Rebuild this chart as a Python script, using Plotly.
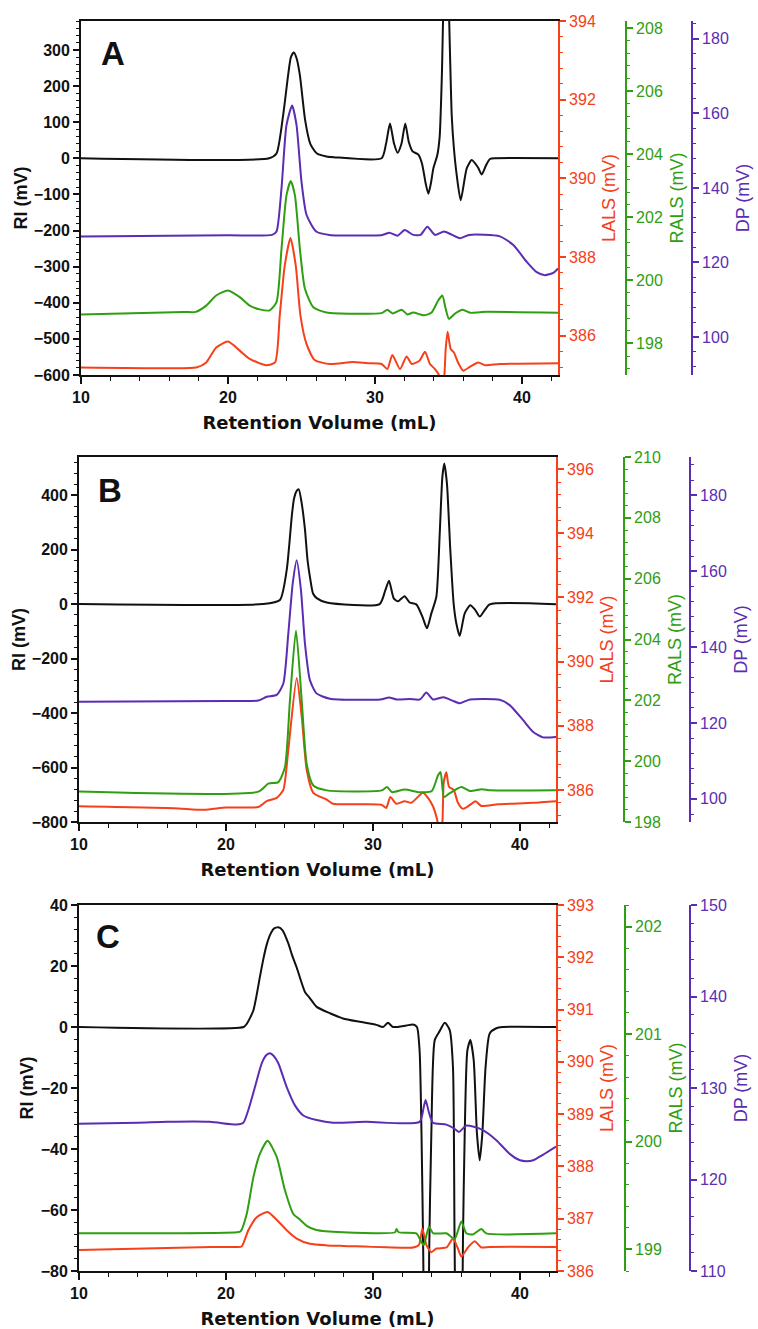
import plotly.graph_objects as go

# ---------------- DATA ----------------
# Panel A
A_RI_x = [10, 22.8, 23.3, 23.75, 24.09, 24.28, 24.48, 24.68, 24.89, 25.25, 25.6, 26.03, 26.7, 27.2, 30.45, 30.75, 31.02, 31.3, 31.54, 31.8, 32.06, 32.3, 32.56, 32.95, 33.2, 33.45, 33.63, 33.8, 33.97, 34.24, 34.4, 34.55, 34.82, 35.22, 35.37, 35.56, 35.83, 36.24, 36.58, 37.0, 37.26, 37.55, 37.82, 38.2, 42.45]
A_RI_y = [0, 0, 13, 119, 230, 280, 293, 275, 230, 105, 40, 14, 5, 3, 0, 40, 96, 40, 15, 40, 96, 45, 19, 10, -15, -70, -98, -70, -28, 9, 60, 230, 700, 119, 27, -47, -116, -28, -5, -25, -45, -20, -2, 0, 0]

A_DP_x = [10, 20, 23.0, 23.3, 23.64, 23.98, 24.36, 24.66, 25.0, 25.34, 26.0, 26.9, 30.5, 30.98, 31.54, 32.02, 32.6, 33.1, 33.56, 34.08, 34.69, 35.2, 35.78, 36.4, 38.5, 39.41, 40.32, 41.0, 41.56, 42.13, 42.45]
A_DP_y = [127.0, 127.3, 127.4, 128.3, 139.9, 156.9, 162.1, 156.9, 141.7, 132.8, 128.3, 127.4, 127.4, 128.0, 127.2, 128.7, 127.4, 127.4, 129.6, 127.4, 128.3, 127.5, 126.5, 127.4, 127.0, 124.7, 120.2, 117.4, 116.6, 117.2, 118.4]

A_RALS_x = [10, 17.0, 17.8, 18.52, 19.2, 20.0, 20.8, 21.48, 22.16, 22.84, 23.3, 23.64, 23.98, 24.27, 24.55, 24.89, 25.23, 25.8, 26.7, 30.5, 30.84, 31.2, 31.81, 32.2, 32.6, 33.33, 33.85, 34.31, 34.58, 34.81, 35.03, 35.45, 35.96, 36.5, 37.26, 42.45]
A_RALS_y = [198.92, 199.0, 199.0, 199.2, 199.52, 199.68, 199.47, 199.2, 199.08, 199.05, 199.31, 201.0, 202.7, 203.15, 202.7, 201.0, 199.74, 199.15, 198.98, 198.97, 199.07, 198.95, 199.07, 198.92, 198.98, 198.89, 198.98, 199.37, 199.52, 199.1, 198.78, 198.95, 199.07, 198.97, 199.0, 198.97]

A_LALS_x = [10, 16, 17.84, 18.52, 19.2, 20.0, 20.8, 21.48, 22.6, 23.2, 23.52, 23.86, 24.25, 24.61, 24.93, 25.34, 25.9, 26.93, 28.5, 29.5, 30.45, 30.84, 31.18, 31.7, 32.15, 32.5, 33.02, 33.4, 33.74, 34.08, 34.35, 34.55, 34.72, 34.81, 34.94, 35.15, 35.37, 35.67, 36.0, 36.5, 37.03, 37.5, 38.5, 42.45]
A_LALS_y = [385.19, 385.17, 385.19, 385.32, 385.70, 385.85, 385.62, 385.41, 385.25, 385.32, 386.51, 387.78, 388.48, 387.78, 386.51, 385.79, 385.38, 385.28, 385.33, 385.30, 385.28, 385.15, 385.51, 385.15, 385.47, 385.28, 385.36, 385.59, 385.28, 385.15, 385.0, 384.6, 385.0, 385.66, 386.1, 385.66, 385.57, 385.3, 385.11, 385.22, 385.32, 385.25, 385.28, 385.30]

# Panel B
B_RI_x = [10, 22.5, 23.67, 24.13, 24.3, 24.47, 24.62, 24.8, 24.95, 25.15, 25.37, 25.55, 25.71, 25.92, 26.17, 26.85, 30.45, 30.84, 31.09, 31.41, 31.7, 32.15, 32.49, 32.95, 33.36, 33.67, 33.97, 34.31, 34.54, 34.72, 34.85, 35.03, 35.26, 35.49, 35.67, 35.9, 36.24, 36.62, 36.96, 37.26, 37.6, 37.94, 42.45]
B_RI_y = [0, 0, 15, 125, 215, 320, 385, 415, 421, 370, 275, 160, 100, 39, 22, 6, 0, 51, 86, 21, 10, 29, 6, -1, -46, -89, -34, 27, 259, 467, 516, 443, 198, 0, -71, -117, -34, -4, -22, -46, -22, -1, -1]

B_DP_x = [10, 20, 22.2, 22.77, 23.45, 23.9, 24.24, 24.54, 24.81, 25.1, 25.37, 25.71, 26.16, 27.07, 30.5, 31.09, 31.6, 32.5, 33.2, 33.63, 34.08, 34.81, 35.4, 35.9, 36.6, 38.62, 39.3, 40.2, 40.88, 41.56, 42.45]
B_DP_y = [125.6, 125.8, 125.9, 126.9, 127.4, 130.4, 143.6, 156.8, 162.9, 155.0, 141.0, 131.3, 127.8, 126.4, 126.2, 126.7, 126.2, 126.3, 126.2, 128.0, 126.2, 126.8, 125.9, 125.2, 126.2, 126.1, 124.7, 120.8, 117.7, 116.2, 116.3]

B_RALS_x = [10, 22.2, 22.88, 23.56, 24.01, 24.35, 24.76, 25.15, 25.49, 25.94, 26.85, 30.6, 30.95, 31.3, 32.15, 33.17, 34.0, 34.42, 34.6, 34.83, 35.17, 36.01, 36.6, 37.4, 38.0, 42.45]
B_RALS_y = [199.0, 199.0, 199.26, 199.31, 199.8, 202.0, 204.3, 202.0, 199.9, 199.2, 199.04, 199.04, 199.15, 198.98, 199.07, 198.98, 199.02, 199.53, 199.64, 198.82, 198.93, 199.15, 199.02, 199.08, 199.04, 199.04]

B_LALS_x = [10, 16.45, 18.5, 20, 22.2, 22.77, 23.45, 23.9, 24.24, 24.81, 25.15, 25.49, 25.94, 26.85, 27.28, 30.57, 30.9, 31.18, 31.59, 32.15, 32.6, 33.4, 33.74, 34.08, 34.35, 34.55, 34.72, 34.81, 34.99, 35.17, 35.49, 35.78, 36.12, 36.5, 36.98, 37.37, 38.5, 40.88, 42.45]
B_LALS_y = [385.49, 385.43, 385.38, 385.45, 385.47, 385.65, 385.75, 386.0, 387.26, 389.49, 388.29, 386.63, 385.91, 385.7, 385.57, 385.54, 385.44, 385.78, 385.57, 385.65, 385.6, 385.91, 385.75, 385.49, 385.1, 384.6, 385.0, 386.22, 386.55, 386.1, 386.0, 385.6, 385.41, 385.5, 385.65, 385.5, 385.55, 385.6, 385.65]

# Panel C
C_RI_x = [10, 21.2, 21.41, 21.86, 22.31, 22.55, 22.77, 23.0, 23.25, 23.56, 23.85, 24.24, 24.5, 24.81, 25.37, 25.7, 26.17, 27.07, 27.96, 29.09, 30.23, 30.68, 31.02, 31.36, 32.27, 32.72, 32.99, 33.17, 33.3, 33.42, 33.62, 33.82, 33.97, 34.2, 34.54, 34.88, 35.22, 35.44, 35.55, 35.85, 36.12, 36.24, 36.42, 36.62, 36.85, 37.07, 37.26, 37.44, 37.66, 37.94, 38.39, 38.8, 42.45]
C_RI_y = [0, 0, 1, 5.4, 16.5, 22.5, 27, 30.2, 32.2, 32.7, 31.7, 27.4, 23.5, 19.5, 11.5, 9.5, 6.6, 4.5, 2.8, 1.7, 0.7, 0, 1.4, 0, 0.5, 0.8, 0, -7.7, -35, -75, -200, -75, -34.8, -4.3, -1.3, 1.4, -1, -13.1, -70, -200, -70, -34.8, -7.7, -4.3, -10.8, -34.8, -43.7, -34.8, -13.1, -2.1, -0.4, 0, 0]

C_DP_x = [10, 14, 16, 18.9, 20.73, 21.18, 21.52, 21.97, 22.43, 22.75, 22.99, 23.25, 23.56, 24.13, 24.69, 25.26, 26.17, 27.28, 29.55, 33.17, 33.45, 33.58, 33.81, 34.08, 34.99, 35.49, 35.85, 36.35, 36.8, 37.48, 38.39, 39.3, 40.0, 40.43, 40.9, 41.56, 42.45]
C_DP_y = [126.1, 126.2, 126.3, 126.3, 126.0, 126.2, 127.6, 130.1, 132.7, 133.6, 133.8, 133.5, 132.7, 130.1, 128.1, 127.0, 126.5, 126.2, 126.3, 126.3, 127.9, 128.7, 127.3, 126.2, 126.0, 125.6, 125.2, 125.9, 125.8, 125.4, 124.3, 122.8, 122.1, 122.0, 122.1, 122.7, 123.6]

C_RALS_x = [10, 20.73, 21.0, 21.41, 21.86, 22.31, 22.83, 23.45, 24.01, 24.58, 25.01, 25.49, 26.15, 27.96, 31.5, 31.6, 31.75, 32.95, 33.29, 33.45, 33.81, 34.1, 34.99, 35.56, 36.01, 36.35, 36.8, 37.37, 37.7, 42.45]
C_RALS_y = [199.15, 199.16, 199.17, 199.33, 199.67, 199.89, 200.01, 199.86, 199.55, 199.33, 199.28, 199.22, 199.18, 199.16, 199.16, 199.19, 199.16, 199.15, 199.07, 199.04, 199.21, 199.15, 199.15, 199.1, 199.26, 199.15, 199.14, 199.19, 199.15, 199.15]

C_LALS_x = [10, 19, 20.73, 21.07, 21.52, 22.09, 22.83, 23.45, 24.13, 24.81, 25.71, 26.85, 28, 32.72, 33.13, 33.36, 33.63, 33.97, 34.31, 35.0, 35.44, 35.75, 36.01, 36.46, 36.92, 37.37, 37.94, 42.45]
C_LALS_y = [386.40, 386.46, 386.46, 386.47, 386.78, 387.03, 387.13, 386.98, 386.78, 386.62, 386.52, 386.49, 386.48, 386.45, 386.5, 386.81, 386.5, 386.36, 386.43, 386.45, 386.62, 386.45, 386.28, 386.45, 386.57, 386.45, 386.46, 386.46]

PANEL_LETTERS = ["A", "B", "C"]
X_TITLE = "Retention Volume (mL)"
Y_TITLES = ["RI (mV)", "LALS (mV)", "RALS (mV)", "DP (mV)"]

# ---------------- STYLE / LAYOUT ----------------
W, H = 758, 1329
BLACK = "#111111"
RED = "#F5401A"
GREEN = "#2F9E12"
PURPLE = "#5A2DB3"
SANS = "Liberation Sans"

def fx(p):
    return p / W

def fy(p):
    return 1 - p / H

panels = [
    dict(xpix=(81, 558), ypix=(21, 375), pos=(626, 692), letter_xy=(113, 54),
         ri=([-600, 380], 100, 20), lals=([385, 394], 2, 0.4), rals=([197, 208.22], 2, 0.4), dp=([89.8, 184.8], 20, 4),
         data=[(A_RI_x, A_RI_y), (A_LALS_x, A_LALS_y), (A_RALS_x, A_RALS_y), (A_DP_x, A_DP_y)]),
    dict(xpix=(79, 556), ypix=(457, 822), pos=(624, 690), letter_xy=(110, 490),
         ri=([-800, 540], 200, 40), lals=([385, 396.38], 2, 0.4), rals=([198, 210], 2, 0.4), dp=([93.9, 190.1], 20, 4),
         data=[(B_RI_x, B_RI_y), (B_LALS_x, B_LALS_y), (B_RALS_x, B_RALS_y), (B_DP_x, B_DP_y)]),
    dict(xpix=(79, 556), ypix=(905, 1271), pos=(625, 690), letter_xy=(108, 937),
         ri=([-80, 40], 20, 4), lals=([386, 393], 1, 0.2), rals=([198.8, 202.2], 1, 0.2), dp=([110, 150], 10, 2),
         data=[(C_RI_x, C_RI_y), (C_LALS_x, C_LALS_y), (C_RALS_x, C_RALS_y), (C_DP_x, C_DP_y)]),
]

fig = go.Figure()
layout = dict(width=W, height=H, margin=dict(l=0, r=0, t=0, b=0),
              paper_bgcolor="white", plot_bgcolor="white", showlegend=False,
              font=dict(family=SANS, color=BLACK), annotations=[])

colors = [BLACK, RED, GREEN, PURPLE]
draw_order = [1, 2, 3, 0]  # LALS, RALS, DP, RI

for i, p in enumerate(panels):
    xn = "" if i == 0 else str(i + 1)
    xid = "x" + xn
    yids = [str(4 * i + k) for k in range(1, 5)]
    yids = ["" if s == "1" else s for s in yids]
    xdom = [fx(p["xpix"][0]), fx(p["xpix"][1])]
    ydom = [fy(p["ypix"][1]), fy(p["ypix"][0])]

    layout["xaxis" + xn] = dict(
        domain=xdom, anchor="y" + yids[0], range=[10, 42.45],
        showline=True, linecolor=BLACK, linewidth=1.8, mirror=True,
        ticks="outside", ticklen=7, tickwidth=1.5, tickcolor=BLACK, dtick=10, tick0=0,
        minor=dict(dtick=2, ticks="outside", ticklen=4, tickwidth=1.3, tickcolor=BLACK),
        tickfont=dict(family=SANS, size=16, color=BLACK, weight="bold"),
        title=dict(text=X_TITLE, font=dict(family="DejaVu Sans", size=18, color=BLACK, weight="bold"), standoff=11),
        showgrid=False, zeroline=False, automargin=False)

    specs = [("ri", BLACK, "left", None), ("lals", RED, "right", None),
             ("rals", GREEN, "right", p["pos"][0]), ("dp", PURPLE, "right", p["pos"][1])]
    for k, (key, col, side, pos) in enumerate(specs):
        rng, dt, mdt = p[key]
        ax = dict(
            domain=ydom, range=rng, side=side,
            showline=True, linecolor=col, linewidth=1.8,
            ticks="outside", ticklen=6, tickwidth=1.5, tickcolor=col, dtick=dt, tick0=0,
            minor=dict(dtick=mdt, ticks="outside", ticklen=3.5, tickwidth=1.3, tickcolor=col),
            tickfont=dict(family=SANS, size=16, color=col, weight="bold" if k == 0 else "normal"),
            title=dict(text=Y_TITLES[k], font=dict(family=SANS, size=18, color=col, weight="bold" if k == 0 else "normal"),
                       standoff=2 if k == 0 else 8),
            showgrid=False, zeroline=False, automargin=False)
        if k == 0:
            ax["anchor"] = xid
        else:
            ax["overlaying"] = "y" + yids[0]
            if pos is None:
                ax["anchor"] = xid
            else:
                ax["anchor"] = "free"
                ax["position"] = fx(pos)
        layout["yaxis" + yids[k]] = ax

    for k in draw_order:
        xs, ys = p["data"][k]
        fig.add_trace(go.Scatter(x=xs, y=ys, mode="lines", xaxis=xid, yaxis="y" + yids[k],
                                 line=dict(color=colors[k], width=2, shape="spline", smoothing=0.6),
                                 hoverinfo="skip"))

    layout["annotations"].append(dict(text=PANEL_LETTERS[i], xref="paper", yref="paper",
                                      x=fx(p["letter_xy"][0]), y=fy(p["letter_xy"][1]),
                                      xanchor="center", yanchor="middle", showarrow=False,
                                      font=dict(family=SANS, size=33, color=BLACK, weight="bold")))

fig.update_layout(**layout)
fig.write_html("out.html")
